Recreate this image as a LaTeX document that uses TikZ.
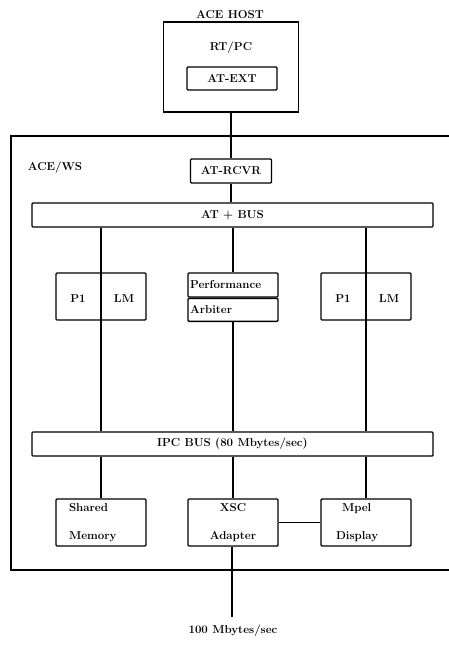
\documentclass[tikz,border=0pt]{standalone}
\usetikzlibrary{positioning}
\begin{document}
\begin{tikzpicture}[x=1pt,y=-1pt,
 lbl/.style={font=\fontsize{11.5}{13}\bfseries\selectfont,inner sep=0pt},
 box/.style={draw,line width=1.4pt,rounded corners=1pt,minimum width=90pt,
 minimum height=47pt,inner sep=0pt,lbl},
 bus/.style={box,minimum width=401pt,minimum height=24pt},
 wire/.style={line width=1.1pt}]
\useasboundingbox (0,0) rectangle (449,647);
% host side
\node[lbl] (hostlbl) at (230,15) {ACE HOST};
\node[draw,line width=1.4pt,minimum width=135pt,minimum height=90pt] (host) at (231,67) {};
\node[lbl] (rtpc) at (231,48) {RT/PC};
\node[box,minimum height=23pt] (atext) at (232,78.5) {AT-EXT};
% workstation frame
\draw[line width=1.4pt] (449,136) -| (11,570) -- (449,570);
\node[lbl] (ws) at (55,168) {ACE/WS};
\node[box,minimum width=81pt,minimum height=24pt] (rcvr) at (231,171) {AT-RCVR};
\node[bus] (atbus) at (232.5,215) {AT + BUS};
\node[bus] (ipcbus) at (232.5,444) {IPC BUS (80 Mbytes/sec)};
% processor cards
\node[box] (cpua) at (101,296.5) {};
\node[lbl] at (78,299) {P1};
\node[lbl] at (124,299) {LM};
\node[box] (cpub) at (366,296.5) {};
\node[lbl] at (343,299) {P1};
\node[lbl] at (389,299) {LM};
\node[box,minimum height=24pt,text width=86pt,align=left] (perf) at (233,285) {Performance};
\node[box,minimum height=23pt,text width=86pt,align=left,below=0pt of perf] (arb) {Arbiter};
% bottom row
\node[box,text width=64pt,align=left] (shm) at (101,522.5) {Shared\\[15pt]Memory};
\node[box,align=center] (xsc) at (233,522.5) {XSC\\[15pt]Adapter};
\node[box,text width=60pt,align=left] (mpel) at (366,522.5) {\hspace*{6pt}Mpel\\[15pt]Display};
\coordinate (out) at (232,617);
\node[lbl] (rate) at (233,631) {100 Mbytes/sec};
% connectors
\draw[wire] (host.south) -- (rcvr.north);
\draw[wire] (rcvr.south) -- (rcvr.south |- atbus.north);
\draw[wire] (atbus.south -| cpua) -- (ipcbus.north -| cpua);
\draw[wire] (atbus.south -| cpub) -- (ipcbus.north -| cpub);
\draw[wire] (atbus.south -| perf) -- (perf.north);
\draw[wire] (arb.south) -- (ipcbus.north -| arb);
\draw[wire] (ipcbus.south -| shm) -- (shm.north);
\draw[wire] (ipcbus.south -| xsc) -- (xsc.north);
\draw[wire] (ipcbus.south -| mpel) -- (mpel.north);
\draw[wire] (xsc.east) -- (mpel.west);
\draw[wire] (xsc.south -| out) -- (out);
\end{tikzpicture}
\end{document}
